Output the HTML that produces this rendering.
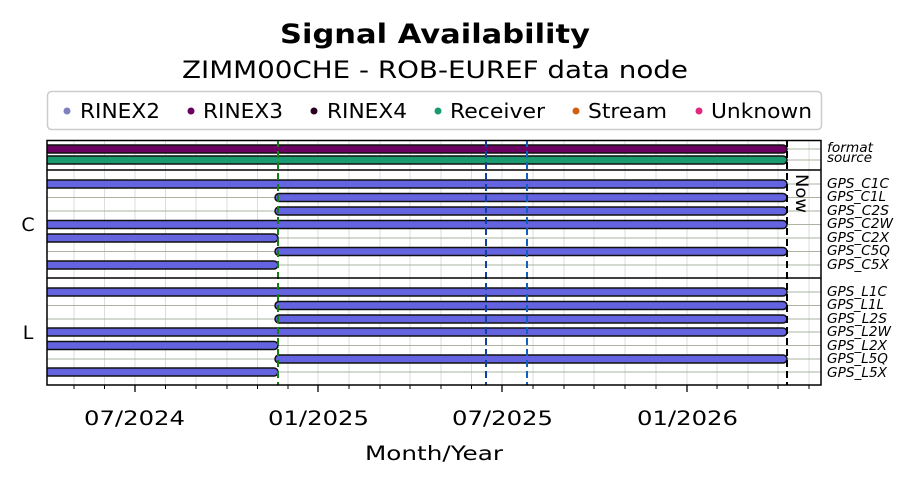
<!DOCTYPE html>
<html><head><meta charset="utf-8"><style>body{margin:0;background:#fff}svg{display:block;font-family:"DejaVu Sans","Liberation Sans",sans-serif}</style></head><body>
<svg width="914" height="485" viewBox="0 0 914 485" xmlns="http://www.w3.org/2000/svg">
<text x="280" y="43" font-size="27" font-weight="bold" textLength="310" lengthAdjust="spacingAndGlyphs">Signal Availability</text>
<text x="182" y="78" font-size="24" textLength="506" lengthAdjust="spacingAndGlyphs">ZIMM00CHE - ROB-EUREF data node</text>
<rect x="47.5" y="91.5" width="774" height="38" rx="4" fill="#fff" stroke="#ccc" stroke-width="1.5"/>
<g font-size="20">
<circle cx="67" cy="111" r="3.5" fill="#8080c0"/><text x="80" y="118" textLength="80" lengthAdjust="spacingAndGlyphs">RINEX2</text>
<circle cx="191" cy="111" r="3.5" fill="#6a0060"/><text x="203" y="118" textLength="80" lengthAdjust="spacingAndGlyphs">RINEX3</text>
<circle cx="314" cy="111" r="3.5" fill="#2a0020"/><text x="327" y="118" textLength="80" lengthAdjust="spacingAndGlyphs">RINEX4</text>
<circle cx="438" cy="111" r="3.5" fill="#1a9a70"/><text x="450" y="118" textLength="95" lengthAdjust="spacingAndGlyphs">Receiver</text>
<circle cx="576" cy="111" r="3.5" fill="#d06010"/><text x="588" y="118" textLength="79" lengthAdjust="spacingAndGlyphs">Stream</text>
<circle cx="699" cy="111" r="3.5" fill="#e02880"/><text x="711" y="118" textLength="101" lengthAdjust="spacingAndGlyphs">Unknown</text>
</g>
<g stroke="#ddd" stroke-width="1">
<line x1="74" y1="140" x2="74" y2="385"/><line x1="104.5" y1="140" x2="104.5" y2="385"/><line x1="135" y1="140" x2="135" y2="385"/><line x1="165.5" y1="140" x2="165.5" y2="385"/><line x1="196" y1="140" x2="196" y2="385"/><line x1="227" y1="140" x2="227" y2="385"/><line x1="257.5" y1="140" x2="257.5" y2="385"/><line x1="288" y1="140" x2="288" y2="385"/><line x1="318" y1="140" x2="318" y2="385"/><line x1="349" y1="140" x2="349" y2="385"/><line x1="380" y1="140" x2="380" y2="385"/><line x1="410" y1="140" x2="410" y2="385"/><line x1="441" y1="140" x2="441" y2="385"/><line x1="471.5" y1="140" x2="471.5" y2="385"/><line x1="502" y1="140" x2="502" y2="385"/><line x1="533" y1="140" x2="533" y2="385"/><line x1="564" y1="140" x2="564" y2="385"/><line x1="594" y1="140" x2="594" y2="385"/><line x1="625" y1="140" x2="625" y2="385"/><line x1="656" y1="140" x2="656" y2="385"/><line x1="687" y1="140" x2="687" y2="385"/><line x1="717" y1="140" x2="717" y2="385"/><line x1="748" y1="140" x2="748" y2="385"/><line x1="778" y1="140" x2="778" y2="385"/><line x1="809" y1="140" x2="809" y2="385"/>
</g>
<g stroke="#aab4a0" stroke-width="1">
<line x1="47" y1="149" x2="821" y2="149"/><line x1="47" y1="160" x2="821" y2="160"/>
<line x1="47" y1="184" x2="821" y2="184"/><line x1="47" y1="197.5" x2="821" y2="197.5"/><line x1="47" y1="211" x2="821" y2="211"/><line x1="47" y1="224.5" x2="821" y2="224.5"/><line x1="47" y1="238" x2="821" y2="238"/><line x1="47" y1="251.5" x2="821" y2="251.5"/><line x1="47" y1="265" x2="821" y2="265"/>
<line x1="47" y1="292" x2="821" y2="292"/><line x1="47" y1="305.5" x2="821" y2="305.5"/><line x1="47" y1="319" x2="821" y2="319"/><line x1="47" y1="332" x2="821" y2="332"/><line x1="47" y1="345.5" x2="821" y2="345.5"/><line x1="47" y1="359" x2="821" y2="359"/><line x1="47" y1="372" x2="821" y2="372"/>
</g>
<g stroke="#111" stroke-width="1.5">
<rect x="44" y="145" width="743" height="8" rx="4" fill="#6a0060"/>
<rect x="44" y="156" width="743" height="8" rx="4" fill="#1a9a70"/>
<g fill="#6464e0">
<rect x="44" y="180" width="743" height="8" rx="4"/>
<rect x="275" y="193.5" width="512" height="8" rx="4"/>
<rect x="275" y="207" width="512" height="8" rx="4"/>
<rect x="44" y="220.5" width="743" height="8" rx="4"/>
<rect x="44" y="234" width="234" height="8" rx="4"/>
<rect x="275" y="247.5" width="512" height="8" rx="4"/>
<rect x="44" y="261" width="234" height="8" rx="4"/>
<rect x="44" y="288" width="743" height="8" rx="4"/>
<rect x="275" y="301.5" width="512" height="8" rx="4"/>
<rect x="275" y="315" width="512" height="8" rx="4"/>
<rect x="44" y="328" width="743" height="8" rx="4"/>
<rect x="44" y="341.5" width="234" height="8" rx="4"/>
<rect x="275" y="355" width="512" height="8" rx="4"/>
<rect x="44" y="368" width="234" height="8" rx="4"/>
</g></g>
<rect x="38" y="140" width="9" height="246" fill="#fff"/>
<g stroke-width="2" stroke-dasharray="7,4" fill="none">
<line x1="278" y1="140" x2="278" y2="385" stroke="#128012"/>
<line x1="486" y1="140" x2="486" y2="385" stroke="#1040a0"/>
<line x1="527" y1="140" x2="527" y2="385" stroke="#1060c0"/>
<line x1="787" y1="140" x2="787" y2="385" stroke="#000"/>
</g>
<g stroke="#000" stroke-width="1.5" fill="none">
<rect x="47" y="140.5" width="774" height="244.5"/>
<line x1="47" y1="170" x2="821" y2="170"/>
<line x1="47" y1="278" x2="821" y2="278"/>
</g>
<text x="0" y="0" font-size="17" transform="translate(796,174) rotate(90)" textLength="39" lengthAdjust="spacingAndGlyphs">Now</text>
<text x="28" y="231" text-anchor="middle" font-size="19">C</text>
<text x="28" y="339" text-anchor="middle" font-size="19">L</text>
<g stroke="#000" stroke-width="1">
<line x1="74" y1="385" x2="74" y2="389"/><line x1="104.5" y1="385" x2="104.5" y2="389"/><line x1="165.5" y1="385" x2="165.5" y2="389"/><line x1="196" y1="385" x2="196" y2="389"/><line x1="227" y1="385" x2="227" y2="389"/><line x1="257.5" y1="385" x2="257.5" y2="389"/><line x1="288" y1="385" x2="288" y2="389"/><line x1="349" y1="385" x2="349" y2="389"/><line x1="380" y1="385" x2="380" y2="389"/><line x1="410" y1="385" x2="410" y2="389"/><line x1="441" y1="385" x2="441" y2="389"/><line x1="471.5" y1="385" x2="471.5" y2="389"/><line x1="533" y1="385" x2="533" y2="389"/><line x1="564" y1="385" x2="564" y2="389"/><line x1="594" y1="385" x2="594" y2="389"/><line x1="625" y1="385" x2="625" y2="389"/><line x1="656" y1="385" x2="656" y2="389"/><line x1="717" y1="385" x2="717" y2="389"/><line x1="748" y1="385" x2="748" y2="389"/><line x1="778" y1="385" x2="778" y2="389"/><line x1="809" y1="385" x2="809" y2="389"/>
<line x1="135" y1="385" x2="135" y2="392" stroke-width="1.3"/><line x1="318" y1="385" x2="318" y2="392" stroke-width="1.3"/><line x1="502" y1="385" x2="502" y2="392" stroke-width="1.3"/><line x1="687" y1="385" x2="687" y2="392" stroke-width="1.3"/>
</g>
<g font-size="19.5">
<text x="84" y="425" textLength="101" lengthAdjust="spacingAndGlyphs">07/2024</text><text x="268" y="425" textLength="101" lengthAdjust="spacingAndGlyphs">01/2025</text><text x="452" y="425" textLength="101" lengthAdjust="spacingAndGlyphs">07/2025</text><text x="637" y="425" textLength="101" lengthAdjust="spacingAndGlyphs">01/2026</text>
<text x="365" y="460" textLength="138" lengthAdjust="spacingAndGlyphs">Month/Year</text>
</g>
<g font-size="13" font-style="italic">
<text x="827" y="152" textLength="46" lengthAdjust="spacingAndGlyphs">format</text><text x="827" y="162" textLength="45" lengthAdjust="spacingAndGlyphs">source</text>
<text x="827" y="188" textLength="62" lengthAdjust="spacingAndGlyphs">GPS_C1C</text><text x="827" y="201" textLength="59" lengthAdjust="spacingAndGlyphs">GPS_C1L</text><text x="827" y="215" textLength="62" lengthAdjust="spacingAndGlyphs">GPS_C2S</text><text x="827" y="228" textLength="66" lengthAdjust="spacingAndGlyphs">GPS_C2W</text><text x="827" y="242" textLength="62" lengthAdjust="spacingAndGlyphs">GPS_C2X</text><text x="827" y="255" textLength="63" lengthAdjust="spacingAndGlyphs">GPS_C5Q</text><text x="827" y="269" textLength="62" lengthAdjust="spacingAndGlyphs">GPS_C5X</text>
<text x="827" y="296" textLength="60" lengthAdjust="spacingAndGlyphs">GPS_L1C</text><text x="827" y="309" textLength="57" lengthAdjust="spacingAndGlyphs">GPS_L1L</text><text x="827" y="323" textLength="60" lengthAdjust="spacingAndGlyphs">GPS_L2S</text><text x="827" y="336" textLength="64" lengthAdjust="spacingAndGlyphs">GPS_L2W</text><text x="827" y="350" textLength="60" lengthAdjust="spacingAndGlyphs">GPS_L2X</text><text x="827" y="363" textLength="61" lengthAdjust="spacingAndGlyphs">GPS_L5Q</text><text x="827" y="377" textLength="60" lengthAdjust="spacingAndGlyphs">GPS_L5X</text>
</g>
</svg>
</body></html>
